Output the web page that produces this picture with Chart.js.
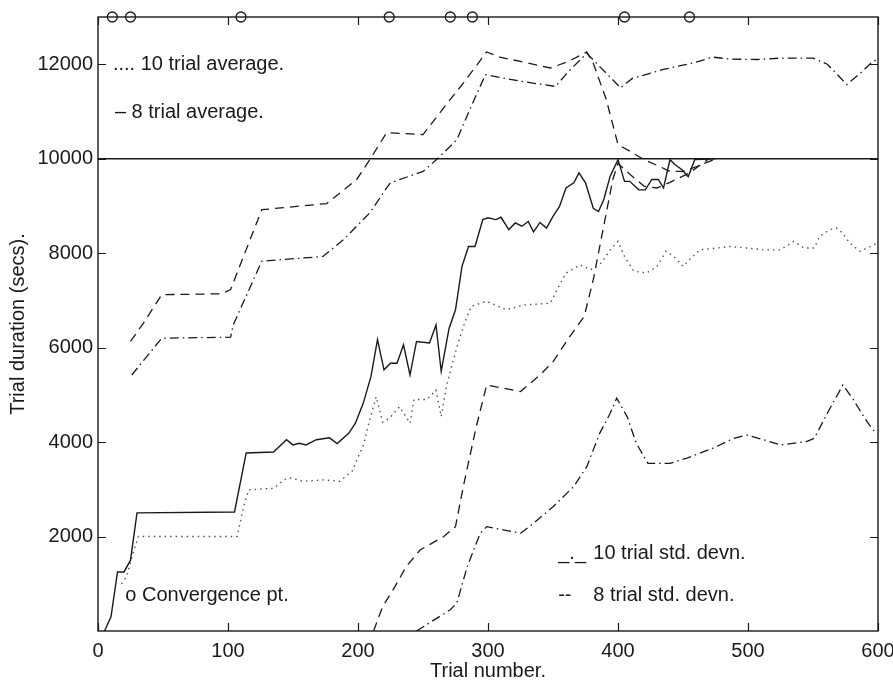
<!DOCTYPE html>
<html lang="en">
<head>
<meta charset="UTF-8">
<title>Trial duration vs trial number</title>
<script src="https://cdn.jsdelivr.net/npm/chart.js@4"></script>
<style>
    html, body { margin: 0; padding: 0; background: #fff; }
    canvas { display: block; }
</style>
</head>
<body>
<canvas id="chart" width="893" height="683"></canvas>
<script>
// axis ticks
const xTicks = [0, 100, 200, 300, 400, 500, 600];
const yTicks = [2000, 4000, 6000, 8000, 10000, 12000];

// 8 trial average (solid)
const avg8X = [5, 10, 15, 20, 25, 30, 105, 114, 135, 145, 150, 155, 160, 168, 178, 184, 193, 198, 204, 210,
    215, 220, 225, 230, 235, 240, 245, 255, 260, 264, 270, 275, 280, 285, 290, 296, 300, 306, 310, 316,
    321, 326, 331, 335, 340, 345, 350, 355, 360, 366, 370, 375, 381, 385, 389, 394, 400, 405, 409, 416,
    421, 426, 431, 435, 440, 444, 449, 454, 459, 475];
const avg8Y = [0, 300, 1250, 1250, 1500, 2500, 2520, 3770, 3790, 4050, 3940, 3975, 3940, 4050, 4090, 3970, 4190, 4400, 4820, 5390,
    6170, 5530, 5670, 5670, 6060, 5420, 6130, 6100, 6480, 5500, 6400, 6800, 7720, 8140, 8140, 8710, 8750, 8710, 8760, 8500,
    8640, 8570, 8670, 8450, 8650, 8530, 8780, 8990, 9380, 9490, 9700, 9490, 8950, 8880, 9130, 9630, 9980, 9520, 9520, 9340,
    9340, 9560, 9560, 9380, 9980, 9870, 9770, 9620, 9980, 10000];

// 10 trial average (dotted)
const avg10X = [18, 22, 27, 31, 107, 112, 116, 135, 143, 148, 158, 174, 186, 196, 199, 204, 209, 214, 219, 224,
    232, 240, 243, 253, 260, 264, 268, 272, 277, 282, 287, 294, 299, 314, 327, 348, 353, 360, 371, 379,
    387, 394, 400, 405, 412, 422, 430, 437, 443, 450, 455, 463, 473, 486, 499, 512, 525, 535, 543, 551,
    555, 563, 568, 573, 578, 586, 594, 600];
const avg10Y = [1000, 1150, 1650, 2000, 2000, 2630, 2990, 3020, 3200, 3240, 3170, 3200, 3170, 3400, 3620, 3920, 4470, 4960, 4420, 4500,
    4750, 4400, 4900, 4900, 5100, 4540, 5180, 5600, 6100, 6520, 6870, 6940, 6980, 6800, 6900, 6940, 7220, 7580, 7750, 7650,
    7790, 8070, 8250, 7930, 7620, 7580, 7720, 8040, 7930, 7720, 7860, 8070, 8100, 8140, 8110, 8070, 8070, 8250, 8110, 8110,
    8350, 8500, 8530, 8420, 8220, 8040, 8140, 8220];

// upper dashed curve
const upDashX = [25, 35, 49, 95, 102, 126, 176, 199, 210, 222, 250, 268, 281, 299, 309, 325, 348, 362, 376, 381,
    391, 400, 409, 420, 430, 440, 450, 461, 473];
const upDashY = [6130, 6520, 7120, 7140, 7230, 8920, 9050, 9560, 10020, 10550, 10510, 11150, 11600, 12260, 12150, 12060, 11920, 12060, 12260, 12020,
    11250, 10300, 10160, 9980, 9860, 9730, 9730, 9840, 9970];

// upper dash-dot curve
const upDotDashX = [26, 49, 102, 104, 126, 173, 189, 209, 222, 225, 250, 262, 276, 286, 298, 325, 352, 362, 376, 402,
    411, 435, 458, 473, 486, 507, 525, 550, 561, 576, 586, 596, 600];
const upDotDashY = [5420, 6200, 6220, 6480, 7830, 7930, 8290, 8850, 9380, 9490, 9730, 10020, 10400, 11040, 11780, 11640, 11530, 11850, 12230, 11500,
    11700, 11890, 12030, 12150, 12110, 12100, 12130, 12130, 12000, 11570, 11800, 12060, 12100];

// 8 trial std. devn. (dashed)
const sd8X = [212, 219, 227, 237, 248, 266, 275, 281, 291, 299, 325, 340, 350, 363, 374, 381, 389, 396, 400, 410,
    420, 430, 440, 455, 470];
const sd8Y = [0, 520, 870, 1360, 1720, 2000, 2210, 3060, 4330, 5210, 5070, 5420, 5700, 6240, 6660, 7440, 8570, 9560, 9900, 9650,
    9420, 9380, 9500, 9700, 10000];

// 10 trial std. devn. (dash-dot)
const sd10X = [245, 271, 276, 284, 294, 299, 325, 335, 350, 366, 376, 386, 394, 399, 407, 414, 423, 440, 453, 473,
    489, 499, 512, 525, 545, 551, 561, 573, 581, 589, 596, 600];
const sd10Y = [0, 450, 590, 1360, 2070, 2210, 2070, 2280, 2630, 3060, 3480, 4190, 4610, 4930, 4540, 3980, 3550, 3550, 3660, 3870,
    4080, 4150, 4050, 3940, 4010, 4080, 4610, 5210, 4900, 4540, 4260, 4190];

// convergence points (drawn on the top edge)
const convX = [11, 25, 110, 224, 271, 288, 405, 455];
const convLevel = 13000;

// reference level
const refX = [0, 600];
const refY = [10000, 10000];

const FONT = '"Liberation Sans", Arial, Helvetica, sans-serif';
const INK = '#1a1a1a';

const pts = (xs, ys) => xs.map((x, i) => ({ x: x, y: ys[i] }));

function line(data, dash, color, width) {
    return {
        data: data,
        borderColor: color || INK,
        borderWidth: width || 1.3,
        borderDash: dash,
        pointRadius: 0,
        tension: 0,
        fill: false
    };
}

// frame, inward tick marks and the text notes
const framePlugin = {
    id: 'frame',
    beforeDatasetsDraw(chart) {
        const { ctx, chartArea: a, scales: { x, y } } = chart;
        const tl = 8;
        ctx.save();
        ctx.strokeStyle = INK;
        ctx.lineWidth = 1.4;
        ctx.strokeRect(a.left, a.top, a.right - a.left, a.bottom - a.top);
        ctx.beginPath();
        xTicks.forEach(v => {
            const px = Math.round(x.getPixelForValue(v)) + 0.5;
            ctx.moveTo(px, a.bottom); ctx.lineTo(px, a.bottom - tl);
            ctx.moveTo(px, a.top); ctx.lineTo(px, a.top + tl);
        });
        yTicks.forEach(v => {
            const py = Math.round(y.getPixelForValue(v)) + 0.5;
            ctx.moveTo(a.left, py); ctx.lineTo(a.left + tl, py);
            ctx.moveTo(a.right, py); ctx.lineTo(a.right - tl, py);
        });
        ctx.lineWidth = 1.2;
        ctx.stroke();
        ctx.restore();
    },
    afterDraw(chart) {
        const { ctx, scales: { x, y } } = chart;
        const notes = [
            ['.... 10 trial average.', 11.5, 12000],
            ['\u2013 8 trial average.', 13, 10975],
            ['o Convergence pt.', 21, 760],
            ['_._', 354, 1650],
            ['10 trial std. devn.', 381, 1650],
            ['--', 354, 760],
            ['8 trial std. devn.', 381, 760]
        ];
        ctx.save();
        ctx.fillStyle = INK;
        ctx.font = '20px ' + FONT;
        ctx.textBaseline = 'middle';
        ctx.textAlign = 'left';
        notes.forEach(n => ctx.fillText(n[0], x.getPixelForValue(n[1]), y.getPixelForValue(n[2])));
        ctx.restore();
    }
};

Chart.defaults.font.family = FONT;
Chart.defaults.color = INK;

new Chart(document.getElementById('chart'), {
    type: 'line',
    data: {
        datasets: [
            line(pts(refX, refY), [], INK, 1.5),
            line(pts(avg8X, avg8Y), [], INK, 1.4),
            line(pts(avg10X, avg10Y), [1.5, 4], '#555', 1.4),
            line(pts(upDashX, upDashY), [9, 6]),
            line(pts(upDotDashX, upDotDashY), [9, 4, 1.5, 4]),
            line(pts(sd8X, sd8Y), [9, 6]),
            line(pts(sd10X, sd10Y), [9, 4, 1.5, 4]),
            {
                data: convX.map(v => ({ x: v, y: convLevel })),
                showLine: false,
                pointStyle: 'circle',
                pointRadius: 5,
                pointBorderWidth: 1.3,
                pointBorderColor: INK,
                pointBackgroundColor: 'rgba(0,0,0,0)',
                clip: false
            }
        ]
    },
    options: {
        responsive: false,
        animation: false,
        devicePixelRatio: 1,
        layout: { padding: { top: 17, right: 15, left: 0, bottom: 0 } },
        plugins: {
            legend: { display: false },
            tooltip: { enabled: false }
        },
        scales: {
            x: {
                type: 'linear',
                min: 0,
                max: 600,
                afterBuildTicks: s => { s.ticks = xTicks.map(v => ({ value: v })); },
                afterFit: s => { s.height = 52; s.paddingLeft = 0; s.paddingRight = 0; },
                grid: { display: false, drawTicks: false },
                border: { display: false },
                ticks: { padding: 8, font: { size: 20 }, color: INK, maxRotation: 0 },
                title: { display: true, text: 'Trial number.', font: { size: 20 }, color: INK, padding: { top: 0, bottom: 0 } }
            },
            y: {
                type: 'linear',
                min: 0,
                max: 13000,
                afterBuildTicks: s => { s.ticks = yTicks.map(v => ({ value: v })); },
                afterFit: s => { s.width = 98; s.paddingTop = 0; s.paddingBottom = 0; },
                grid: { display: false, drawTicks: false },
                border: { display: false },
                ticks: { padding: 5, font: { size: 20 }, color: INK, callback: v => String(v) },
                title: { display: true, text: 'Trial duration (secs).', font: { size: 20 }, color: INK, padding: { top: 6, bottom: 0 } }
            }
        }
    },
    plugins: [framePlugin]
});
</script>
</body>
</html>
